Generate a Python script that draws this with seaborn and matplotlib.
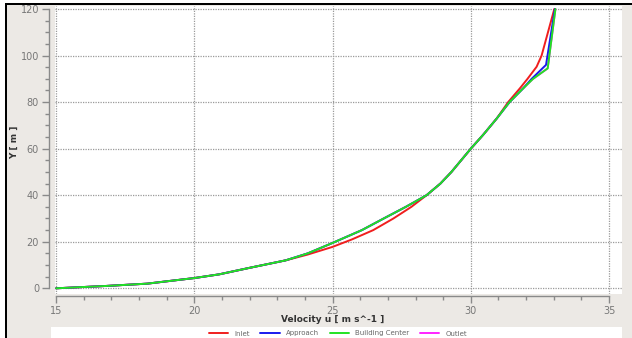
import matplotlib
matplotlib.use("Agg")
import matplotlib.pyplot as plt
from matplotlib.patches import Rectangle
from matplotlib.ticker import MultipleLocator
import pandas as pd
import seaborn as sns

# Velocity profiles: height Y [m] against streamwise velocity u [m/s]
inlet_y = [0, 1, 2, 3, 4.4, 6, 8.8, 12, 14.5, 17.8, 21, 25, 30, 35, 40, 45, 50, 55, 60, 66, 73, 80, 86, 90, 95.2, 100, 120]
inlet_u = [15.0, 16.8, 18.3, 19.0, 20.0, 20.9, 22.0, 23.3, 24.1, 25.0, 25.7, 26.47, 27.2, 27.85, 28.4, 28.9, 29.3, 29.65, 30.0, 30.45, 30.94, 31.35, 31.78, 32.05, 32.38, 32.56, 33.02]

approach_y = [0, 1, 2, 3, 4.4, 6, 8.8, 12, 15, 19.5, 25, 30, 35, 40, 45, 50, 55, 60, 66, 73, 80, 86, 90, 96, 120]
approach_u = [15.0, 16.8, 18.3, 19.0, 20.0, 20.9, 22.0, 23.3, 24.1, 25.0, 26.06, 26.85, 27.65, 28.4, 28.9, 29.3, 29.65, 30.0, 30.45, 30.94, 31.4, 31.9, 32.2, 32.72, 33.04]

center_y = [0, 1, 2, 3, 4.4, 6, 8.8, 12, 15, 19.5, 25, 30, 35, 40, 45, 50, 55, 60, 66, 73, 80, 86, 90, 94.5, 120]
center_u = [15.0, 16.8, 18.3, 19.0, 20.0, 20.9, 22.0, 23.3, 24.1, 25.0, 26.06, 26.85, 27.65, 28.4, 28.9, 29.3, 29.65, 30.0, 30.45, 30.94, 31.4, 31.9, 32.25, 32.78, 33.06]

outlet_y = [0, 1, 2, 3, 4.4, 6, 8.8, 12, 15, 19.5, 25, 30, 35, 40, 45, 50, 55, 60, 66, 73, 80, 86, 90, 94.5, 120]
outlet_u = [15.0, 16.8, 18.3, 19.0, 20.0, 20.9, 22.0, 23.3, 24.1, 25.0, 26.06, 26.85, 27.65, 28.4, 28.9, 29.3, 29.65, 30.0, 30.45, 30.94, 31.4, 31.9, 32.25, 32.78, 33.06]

series_names = ["Inlet", "Approach", "Building Center", "Outlet"]
series_colors = {"Inlet": "#f01e1e", "Approach": "#1a1aee", "Building Center": "#22e322", "Outlet": "#ff22ff"}

frames = []
for name, u, y in [("Inlet", inlet_u, inlet_y), ("Approach", approach_u, approach_y),
                   ("Building Center", center_u, center_y), ("Outlet", outlet_u, outlet_y)]:
    frames.append(pd.DataFrame({"u": u, "Y": y, "series": name}))
data = pd.concat(frames, ignore_index=True)

sns.set_style("white")
W, H = 632, 338
fig = plt.figure(figsize=(W / 100, H / 100), dpi=100, facecolor="white")

def fx(px):
    return px / W

def fy(py):
    return 1 - py / H

# window panel and frame (kept behind the axes)
fig.patches.append(Rectangle((fx(7), 0), 1 - fx(7), fy(5), transform=fig.transFigure,
                             facecolor="#ece9e5", edgecolor="none", zorder=-10))
fig.patches.append(Rectangle((fx(5), 0), fx(2.2), fy(3), transform=fig.transFigure,
                             facecolor="black", edgecolor="none", zorder=-9))
fig.patches.append(Rectangle((fx(5), fy(5.2)), 1 - fx(5), fy(3) - fy(5.2), transform=fig.transFigure,
                             facecolor="black", edgecolor="none", zorder=-9))
# legend strip
fig.patches.append(Rectangle((fx(51), 0), fx(622) - fx(51), fy(327), transform=fig.transFigure,
                             facecolor="white", edgecolor="none", zorder=-9))

ax = fig.add_axes([fx(55), fy(294), fx(621.5) - fx(55), fy(6) - fy(294)])
ax.set_facecolor("white")

# draw order: outlet underneath, then inlet, approach, building center on top
handles = {}
for name in ["Outlet", "Inlet", "Approach", "Building Center"]:
    sub = data[data["series"] == name]
    sns.lineplot(data=sub, x="u", y="Y", sort=False, estimator=None, color=series_colors[name],
                 linewidth=1.4, ax=ax, label=name, legend=False)
    handles[name] = ax.lines[-1]

ax.set_xlim(14.96, 35.45)
ax.set_ylim(-2.45, 121.3)

ax.xaxis.set_major_locator(MultipleLocator(5))
ax.xaxis.set_minor_locator(MultipleLocator(1))
ax.yaxis.set_major_locator(MultipleLocator(20))
ax.yaxis.set_minor_locator(MultipleLocator(5))

ax.grid(True, which="major", color="#9a9a9a", linestyle=(0, (1, 1)), linewidth=0.9)
for s in ["top", "right"]:
    ax.spines[s].set_visible(False)
for s in ["left", "bottom"]:
    ax.spines[s].set_color("#8a8a8a")
    ax.spines[s].set_linewidth(1.0)
ax.spines["left"].set_position(("outward", 4.5))
ax.spines["bottom"].set_position(("outward", 1.5))
ax.spines["left"].set_bounds(0, 120)
ax.spines["bottom"].set_bounds(15, 35)

ax.tick_params(axis="both", which="major", length=5, width=1.0, color="#8a8a8a",
               labelsize=7, labelcolor="#777777", pad=2)
ax.tick_params(axis="both", which="minor", length=3, width=1.0, color="#8a8a8a")
ax.tick_params(axis="x", which="both", bottom=True, direction="out")
ax.tick_params(axis="y", which="both", left=True, direction="out")

ax.set_xlabel("")
ax.set_ylabel("")
fig.text(fx(333), fy(320), "Velocity u [ m s^-1 ]", ha="center", va="center",
         fontsize=6.5, fontweight="bold", color="#333333")
fig.text(fx(14), fy(142), "Y [ m ]", ha="center", va="center", rotation=90,
         fontsize=6.5, fontweight="bold", color="#333333")

leg = fig.legend([handles[n] for n in series_names], series_names, loc="center",
                 bbox_to_anchor=(fx(338), fy(333.5)), ncol=4, frameon=False, fontsize=5,
                 handlelength=2.8, handletextpad=0.9, columnspacing=1.5, borderpad=0)
for t in leg.get_texts():
    t.set_color("#666666")

fig.savefig("out.png", dpi=100, facecolor=fig.get_facecolor())
